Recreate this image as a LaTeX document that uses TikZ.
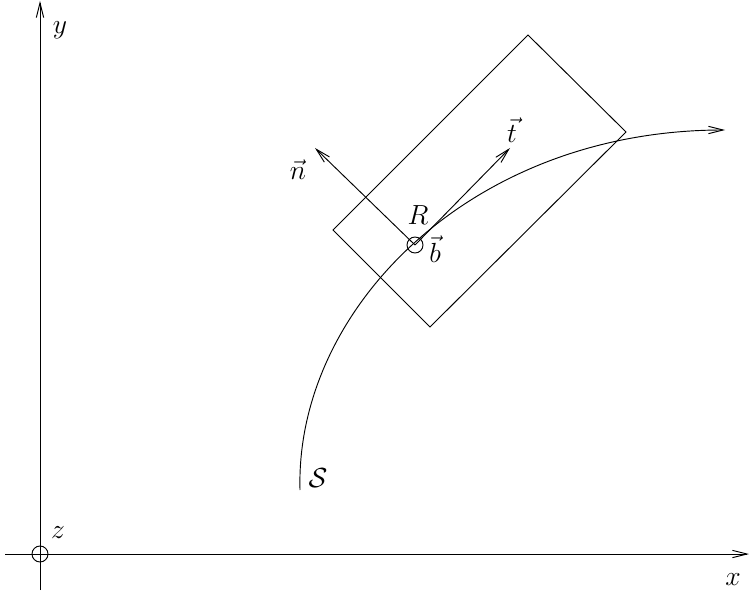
\documentclass[tikz,border=0pt]{standalone}
\usetikzlibrary{arrows.meta}
\begin{document}
\begin{tikzpicture}[x=0.75pt,y=-0.75pt,
  ln/.style={line width=0.7pt},
  arr/.style={ln,-{Straight Barb[length=11pt,width=5.5pt,line width=0.7pt]}},
  lbl/.style={inner sep=0pt,font=\fontsize{19.5}{22}\selectfont}]
\useasboundingbox (0,0) rectangle (749,595);
% axes
\coordinate (yb) at (40,590);
\coordinate (yt) at (40,1);
\coordinate (xl) at (5,554);
\coordinate (xr) at (749,554);
\draw[arr] (yb) -- (yt);
\draw[arr] (xl) -- (xr);
\node[ln,draw,circle,minimum size=16*0.75pt,inner sep=0pt] (O) at (40,554) {};
\node[lbl] (z) at (58,533) {$z$};
\node[lbl] (y) at (60,30) {$y$};
\node[lbl] (x) at (733,580) {$x$};
% rectangle
\coordinate (r1) at (528,35);
\coordinate (r2) at (626,132);
\coordinate (r3) at (430,327);
\coordinate (r4) at (333,230);
\draw[ln] (r1) -- (r2) -- (r3) -- (r4) -- cycle;
% curve
\coordinate (c0) at (300,490);
\coordinate (c1) at (725,130);
\draw[arr] (c0) .. controls (295,310) and (470,130) .. (c1);
% point R
\node[ln,draw,circle,minimum size=16*0.75pt,inner sep=0pt] (R) at (415,245) {};
\coordinate (Rc) at (415,245);
\coordinate (tt) at (510,148);
\coordinate (nt) at (315,148);
\draw[arr] (Rc) -- (tt);
\draw[arr] (Rc) -- (nt);
\node[lbl] (Rl) at (418,215) {$R$};
\node[lbl] (bl) at (435,249) {$\vec b$};
\node[lbl] (tl) at (512,130) {$\vec t$};
\node[lbl] (nl) at (298,170) {$\vec n$};
\node[lbl] (Sl) at (318,478) {$\mathcal S$};
\end{tikzpicture}
\end{document}
